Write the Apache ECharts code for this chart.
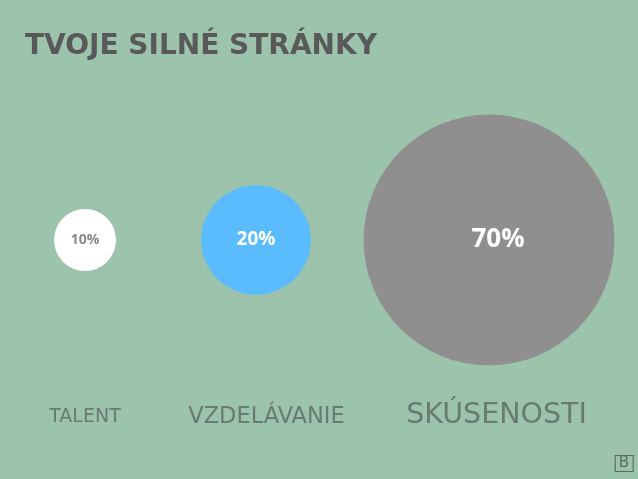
<!DOCTYPE html>
<html>
<head>
<meta charset="utf-8">
<script src="https://cdn.jsdelivr.net/npm/echarts@6/dist/echarts.min.js"></script>
<style>
  html, body { margin: 0; padding: 0; background: #9cc4ad; }
  #chart { width: 638px; height: 479px; }
</style>
</head>
<body>
<div id="chart"></div>
<script>
// ---- data ----
const title = 'TVOJE SILNÉ STRÁNKY';
const categories = ['TALENT', 'VZDELÁVANIE', 'SKÚSENOSTI'];
const shares = [10, 20, 70];

// ---- styles (not data) ----
const circleColors = ['#ffffff', '#5bbcfd', '#8f8f8f'];
const pctColors = ['#8a8a8a', '#ffffff', '#ffffff'];
const pctFontSizes = [14, 19, 26];
const circleShift = [10, -21, 10];
const pctExtraShift = [0, 0, 9];
const nameFontSizes = [19, 22.5, 28.5];
const nameShift = [[10, 0], [-10.5, 0], [17.5, -1.5]];

const chart = echarts.init(document.getElementById('chart'));

const circleData = categories.map((c, i) => ({
  value: [c, 1, shares[i]],
  itemStyle: { color: circleColors[i], opacity: 1 },
  symbolOffset: [circleShift[i], 0],
  label: {
    color: pctColors[i],
    fontSize: pctFontSizes[i],
    offset: [pctExtraShift[i], 0]
  }
}));

const nameData = categories.map((c, i) => ({
  value: [c, 0],
  label: {
    fontSize: nameFontSizes[i],
    offset: nameShift[i]
  }
}));

chart.setOption({
  backgroundColor: '#9cc4ad',
  animation: false,
  title: [{
    text: title,
    left: 25,
    top: 33,
    padding: 0,
    textStyle: {
      fontFamily: 'DejaVu Sans',
      fontWeight: 'bold',
      fontSize: 28,
      color: '#595959'
    }
  }, {
    text: 'B',
    right: 5,
    bottom: 7,
    padding: [1, 4, 1, 4],
    borderColor: '#5e6b64',
    borderWidth: 1.2,
    textStyle: {
      fontFamily: 'DejaVu Sans',
      fontWeight: 'normal',
      fontSize: 15,
      color: '#5e6b64'
    }
  }],
  grid: { left: 75, right: 159, top: 240, bottom: 62 },
  xAxis: {
    type: 'category',
    data: categories,
    boundaryGap: false,
    show: false
  },
  yAxis: {
    type: 'value',
    min: 0,
    max: 1,
    show: false
  },
  series: [{
    type: 'scatter',
    clip: false,
    data: circleData,
    symbol: 'circle',
    symbolSize: (val) => 36.3 * Math.sqrt(val[2]) - 52.8,
    itemStyle: { opacity: 1 },
    label: {
      show: true,
      position: 'inside',
      fontFamily: 'Open Sans',
      fontWeight: 'bold',
      formatter: (p) => p.value[2] + '%'
    },
    emphasis: { disabled: true }
  }, {
    type: 'scatter',
    clip: false,
    data: nameData,
    symbolSize: 0,
    label: {
      show: true,
      position: 'inside',
      fontFamily: 'DejaVu Sans',
      color: '#5b6862',
      formatter: (p) => p.value[0]
    },
    emphasis: { disabled: true }
  }]
});
</script>
</body>
</html>
